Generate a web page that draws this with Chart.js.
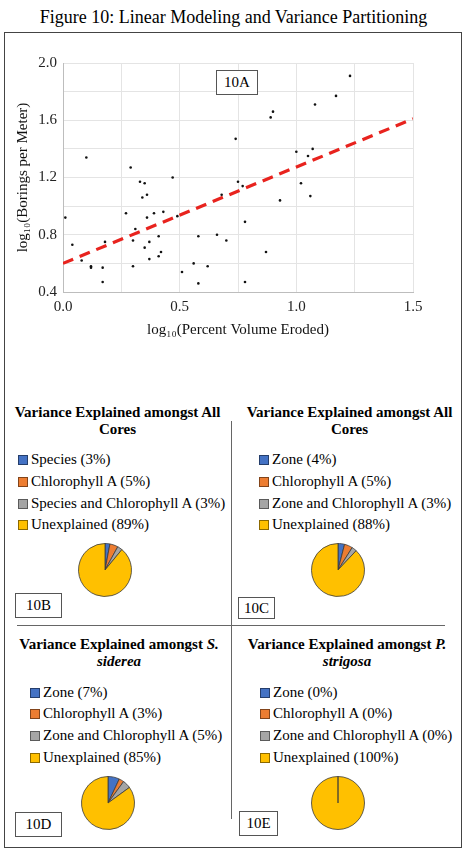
<!DOCTYPE html>
<html>
<head>
<meta charset="utf-8">
<script src="https://cdn.jsdelivr.net/npm/chart.js@4.4.1/dist/chart.umd.min.js"></script>
<style>
  body { margin: 0; background: #fff; font-family: "Liberation Serif", "Times New Roman", serif; color: #000; }
  #page { position: relative; width: 467px; height: 849px; overflow: hidden; }
  .abs { position: absolute; }
  #figTitle { left: 0; top: 6px; width: 467px; text-align: center; font-size: 18px; line-height: 22px; }
  #frame { left: 4px; top: 32px; width: 458px; height: 816px; border: 1px solid #444; box-sizing: border-box; }
  .tag { border: 1px solid #555; background: #fff; box-sizing: border-box; font-size: 15px; text-align: center; }
  .ptitle { font-weight: bold; font-size: 15px; line-height: 17px; text-align: center; }
  .lrow { font-size: 15px; line-height: 18px; white-space: nowrap; }
  .sw { display: inline-block; width: 10px; height: 10px; box-sizing: border-box; border: 1px solid rgba(0,0,0,0.45); margin-right: 3px; vertical-align: -1px; }
  .vline { background: #666; width: 1px; }
  .hline { background: #666; height: 1px; }
</style>
</head>
<body>
<div id="page">
  <div id="figTitle" class="abs">Figure 10: Linear Modeling and Variance Partitioning</div>
  <div id="frame" class="abs"></div>
  <canvas id="scatter" class="abs" width="467" height="350" style="left:0;top:0"></canvas>
  <div class="abs tag" style="left:216px;top:70px;width:42px;height:25px;line-height:23px">10A</div>
  <div class="abs vline" style="left:231px;top:421px;height:398px"></div>
  <div class="abs hline" style="left:17px;top:625px;width:428px"></div>
</div>

<script>
// scatter: log10(percent volume eroded) vs log10(borings per meter)
const erodedLog = [0.01, 0.10, 0.04, 0.08, 0.12, 0.12, 0.17, 0.17, 0.18, 0.29,
  0.27, 0.33, 0.35, 0.34, 0.36, 0.31, 0.30, 0.30, 0.36, 0.35,
  0.37, 0.37, 0.39, 0.41, 0.41, 0.42, 0.43, 0.47, 0.49, 0.51,
  0.58, 0.56, 0.58, 0.62, 0.66, 0.70, 0.68, 0.74, 0.75, 0.77,
  0.78, 0.78, 0.87, 0.89, 0.90, 0.93, 1.00, 1.02, 1.07, 1.05,
  1.06, 1.08, 1.17, 1.23];
const boringsLog = [0.92, 1.34, 0.73, 0.62, 0.58, 0.57, 0.57, 0.47, 0.75, 1.27,
  0.95, 1.17, 1.16, 1.06, 1.08, 0.84, 0.76, 0.58, 0.92, 0.71,
  0.75, 0.63, 0.95, 0.79, 0.65, 0.68, 0.96, 1.20, 0.93, 0.54,
  0.79, 0.60, 0.46, 0.58, 0.80, 0.76, 1.08, 1.47, 1.17, 1.14,
  0.89, 0.47, 0.68, 1.62, 1.66, 1.04, 1.38, 1.16, 1.40, 1.35,
  1.07, 1.71, 1.77, 1.91];
const trendX = [0, 1.5];
const trendY = [0.60, 1.61];

// variance partitioning pies
const partsSpecies = ['Species', 'Chlorophyll A', 'Species and Chlorophyll A', 'Unexplained'];
const partsZone = ['Zone', 'Chlorophyll A', 'Zone and Chlorophyll A', 'Unexplained'];
const allCoresSpecies = [3, 5, 3, 89];
const allCoresZone = [4, 5, 3, 88];
const sidereaZone = [7, 3, 5, 85];
const strigosaZone = [0, 0, 0, 100];
const sliceColors = ['#4472C4', '#ED7D31', '#A5A5A5', '#FFC000'];

const serif = '"Liberation Serif", "Times New Roman", serif';

new Chart(document.getElementById('scatter'), {
  type: 'scatter',
  data: {
    datasets: [
      {
        data: erodedLog.map((x, i) => ({ x: x, y: boringsLog[i] })),
        backgroundColor: '#111',
        borderColor: '#111',
        pointRadius: 1.3,
        pointBorderWidth: 0
      },
      {
        type: 'line',
        data: trendX.map((x, i) => ({ x: x, y: trendY[i] })),
        borderColor: '#e8231e',
        borderWidth: 3.2,
        borderDash: [11, 7],
        pointRadius: 0,
        fill: false
      }
    ]
  },
  options: {
    responsive: false,
    animation: false,
    layout: { padding: { left: 0, right: 54, top: 63, bottom: 8 } },
    plugins: { legend: { display: false }, tooltip: { enabled: false } },
    scales: {
      x: {
        type: 'linear', min: 0, max: 1.5,
        afterFit: (s) => { s.height = 50; },
        ticks: {
          stepSize: 0.25, autoSkip: false, maxRotation: 0, padding: 6,
          color: '#222', font: { family: serif, size: 15 },
          callback: (v) => Math.abs(v * 2 - Math.round(v * 2)) < 1e-6 ? v.toFixed(1) : ''
        },
        grid: { color: '#e4e4e4', drawTicks: false },
        border: { color: '#bdbdbd' },
        title: { display: true, text: 'log₁₀(Percent Volume Eroded)', color: '#111',
                 font: { family: serif, size: 15 }, padding: { top: 0, bottom: 3 } }
      },
      y: {
        min: 0.4, max: 2.0,
        afterFit: (s) => { s.width = 63; },
        ticks: {
          stepSize: 0.2, autoSkip: false, padding: 6,
          color: '#222', font: { family: serif, size: 15 },
          callback: (v) => Math.abs(v * 2.5 - Math.round(v * 2.5)) < 1e-6 ? v.toFixed(1) : ''
        },
        grid: { color: '#e4e4e4', drawTicks: false },
        border: { color: '#bdbdbd' },
        title: { display: true, text: 'log₁₀(Borings per Meter)', color: '#111',
                 font: { family: serif, size: 15 }, padding: { top: 14, bottom: 0 } }
      }
    }
  }
});

// pie panels: title, html legend, small pie, tag box
const panels = [
  { values: allCoresSpecies, parts: partsSpecies, title: 'Variance Explained amongst All<br>Cores',
    titleBox: [4, 404, 227], legendX: 18, rows: [459, 481, 503, 524], pie: [105, 570], tag: ['10B', 15, 593, 47, 25] },
  { values: allCoresZone, parts: partsZone, title: 'Variance Explained amongst All<br>Cores',
    titleBox: [236, 404, 227], legendX: 259, rows: [459, 481, 503, 524], pie: [338, 570], tag: ['10C', 238, 597, 37, 22] },
  { values: sidereaZone, parts: partsZone, title: 'Variance Explained amongst <i>S.</i><br><i>siderea</i>',
    titleBox: [4, 636, 230], legendX: 30, rows: [692, 713, 735, 757], pie: [108, 803], tag: ['10D', 15, 812, 47, 25] },
  { values: strigosaZone, parts: partsZone, title: 'Variance Explained amongst <i>P.</i><br><i>strigosa</i>',
    titleBox: [232, 636, 230], legendX: 260, rows: [692, 713, 735, 757], pie: [338, 803], tag: ['10E', 239, 811, 39, 25] }
];

const page = document.getElementById('page');

panels.forEach((p) => {
  const t = document.createElement('div');
  t.className = 'abs ptitle';
  t.style.left = p.titleBox[0] + 'px';
  t.style.top = p.titleBox[1] + 'px';
  t.style.width = p.titleBox[2] + 'px';
  t.innerHTML = p.title;
  page.appendChild(t);

  p.parts.forEach((name, i) => {
    const row = document.createElement('div');
    row.className = 'abs lrow';
    row.style.left = p.legendX + 'px';
    row.style.top = (p.rows[i] - 9) + 'px';
    row.innerHTML = '<span class="sw" style="background:' + sliceColors[i] + '"></span>' +
      name + ' (' + p.values[i] + '%)';
    page.appendChild(row);
  });

  const c = document.createElement('canvas');
  c.className = 'abs';
  c.width = 60; c.height = 60;
  c.style.left = (p.pie[0] - 30) + 'px';
  c.style.top = (p.pie[1] - 30) + 'px';
  page.appendChild(c);
  new Chart(c, {
    type: 'pie',
    data: {
      labels: p.parts,
      datasets: [{
        data: p.values,
        backgroundColor: sliceColors,
        borderColor: '#3a3a3a',
        borderWidth: 0.8
      }]
    },
    options: {
      responsive: false,
      animation: false,
      radius: 26.5,
      plugins: { legend: { display: false }, tooltip: { enabled: false } }
    }
  });

  const g = document.createElement('div');
  g.className = 'abs tag';
  g.style.left = p.tag[1] + 'px';
  g.style.top = p.tag[2] + 'px';
  g.style.width = p.tag[3] + 'px';
  g.style.height = p.tag[4] + 'px';
  g.style.lineHeight = (p.tag[4] - 2) + 'px';
  g.textContent = p.tag[0];
  page.appendChild(g);
});
</script>
</body>
</html>
